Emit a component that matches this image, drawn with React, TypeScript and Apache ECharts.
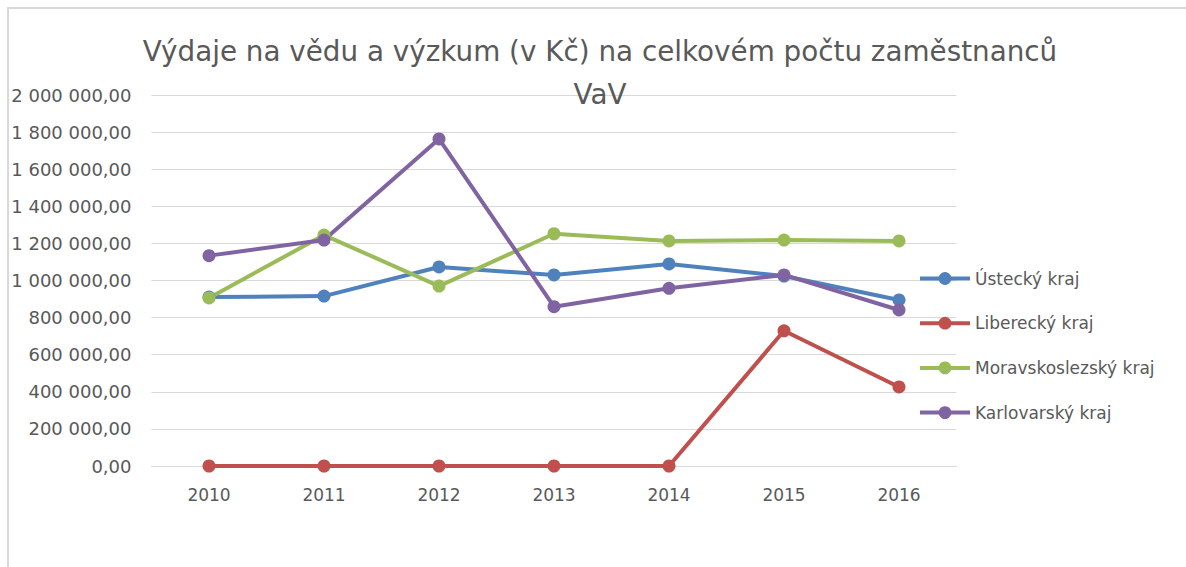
import React, { useEffect, useRef } from "react";
import * as echarts from "echarts";

const categories = ["2010", "2011", "2012", "2013", "2014", "2015", "2016"];
const ustecky = [911000, 916000, 1073000, 1030000, 1089000, 1024000, 895000];
const liberecky = [0, 0, 0, 0, 0, 729000, 426000];
const moravskoslezsky = [906000, 1245000, 970000, 1252000, 1213000, 1218000, 1213000];
const karlovarsky = [1134000, 1218000, 1763000, 859000, 958000, 1030000, 841000];
const seriesNames = ["Ústecký kraj", "Liberecký kraj", "Moravskoslezský kraj", "Karlovarský kraj"];
const colors = ["#4F81BD", "#C0504D", "#9BBB59", "#8064A2"];
const titleText = "Výdaje na vědu a výzkum (v Kč) na celkovém počtu zaměstnanců\nVaV";

const FONT = "DejaVu Sans";

function fmt(v: number): string {
  const s = Math.round(v).toString();
  const parts: string[] = [];
  for (let i = s.length; i > 0; i -= 3) parts.unshift(s.slice(Math.max(0, i - 3), i));
  return parts.join(" ") + ",00";
}

export default function App() {
  const ref = useRef<HTMLDivElement>(null);
  useEffect(() => {
    if (!ref.current) return;
    const chart = echarts.init(ref.current, null, { renderer: "svg" });
    const data = [ustecky, liberecky, moravskoslezsky, karlovarsky];
    chart.setOption({
      animation: false,
      backgroundColor: "#ffffff",
      textStyle: { fontFamily: FONT },
      title: {
        text: titleText,
        left: 595,
        textAlign: "center",
        top: 25,
        textStyle: {
          fontFamily: FONT,
          fontSize: 27.8,
          fontWeight: "normal",
          color: "#595959",
          lineHeight: 43,
        },
      },
      graphic: [
        {
          type: "rect",
          shape: { x: 8, y: 8, width: 1400, height: 800 },
          style: { fill: "none", stroke: "#d9d9d9", lineWidth: 2 },
          silent: true,
          z: -10,
        },
      ],
      legend: {
        orient: "vertical",
        left: 918,
        top: 270,
        padding: 0,
        itemWidth: 50,
        itemHeight: 16,
        itemGap: 27.7,
        data: seriesNames,
        lineStyle: { width: 4 },
        textStyle: { fontFamily: FONT, fontSize: 17, color: "#595959" },
      },
      grid: { left: 151.5, right: 229.5, top: 95, bottom: 101, containLabel: false },
      xAxis: {
        type: "category",
        data: categories,
        boundaryGap: true,
        axisLine: { show: true, lineStyle: { color: "#d9d9d9", width: 1 } },
        axisTick: { show: false },
        axisLabel: { color: "#595959", fontSize: 17, margin: 20, fontFamily: FONT },
      },
      yAxis: {
        type: "value",
        min: 0,
        max: 2000000,
        interval: 200000,
        axisLine: { show: false },
        axisTick: { show: false },
        splitLine: { lineStyle: { color: "#d9d9d9", width: 1 } },
        axisLabel: {
          color: "#595959",
          fontSize: 18,
          margin: 20,
          fontFamily: FONT,
          formatter: (v: number) => fmt(v),
        },
      },
      series: seriesNames.map((name, i) => ({
        name,
        type: "line",
        data: data[i],
        symbol: "circle",
        symbolSize: 13,
        color: colors[i],
        lineStyle: { width: 4, color: colors[i] },
        itemStyle: { color: colors[i] },
      })),
    });
    return () => chart.dispose();
  }, []);
  return (
    <div
      ref={ref}
      style={{ position: "absolute", left: 0, top: 0, width: 1186, height: 567 }}
    />
  );
}
